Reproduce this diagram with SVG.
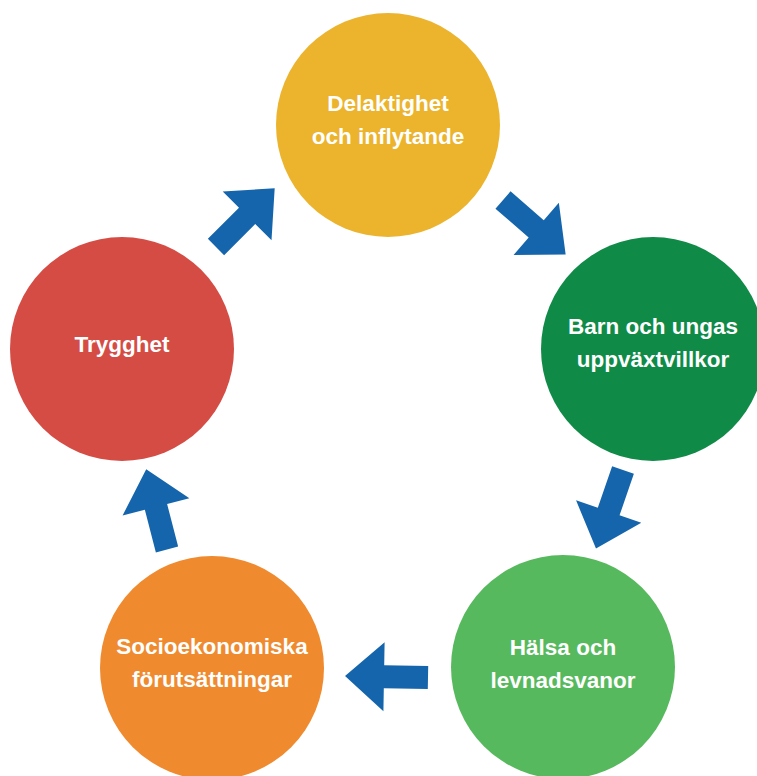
<svg xmlns="http://www.w3.org/2000/svg" width="757" height="776" viewBox="0 0 757 776">
  <style>
    .lbl { font-family: "Liberation Sans", Arial, sans-serif; font-weight: bold; font-size: 22.5px; fill: #ffffff; text-anchor: middle; }
    .arrow { fill: #1565AD; }
  </style>
  <defs>
    <path id="blockArrow" d="M0,-11.5 L44,-11.5 L44,-34.5 L83,0 L44,34.5 L44,11.5 L0,11.5 Z"/>
  </defs>
  <rect width="757" height="776" fill="#ffffff"/>

  <g id="node-delaktighet">
    <circle cx="388" cy="125" r="112" fill="#ECB32D"/>
    <text class="lbl" x="388" y="111">Delaktighet</text>
    <text class="lbl" x="388" y="144">och inflytande</text>
  </g>
  <g id="node-barn">
    <circle cx="653" cy="349" r="112" fill="#0F8A47"/>
    <text class="lbl" x="653" y="334">Barn och ungas</text>
    <text class="lbl" x="653" y="367">uppväxtvillkor</text>
  </g>
  <g id="node-halsa">
    <circle cx="563" cy="667" r="112" fill="#57B95D"/>
    <text class="lbl" x="563" y="655">Hälsa och</text>
    <text class="lbl" x="563" y="688">levnadsvanor</text>
  </g>
  <g id="node-socio">
    <circle cx="212" cy="668" r="112" fill="#F08A2E"/>
    <text class="lbl" x="212" y="654">Socioekonomiska</text>
    <text class="lbl" x="212" y="687">förutsättningar</text>
  </g>
  <g id="node-trygghet">
    <circle cx="122" cy="349" r="112" fill="#D54C45"/>
    <text class="lbl" x="122" y="352">Trygghet</text>
  </g>

  <g id="connectors">
    <use href="#blockArrow" class="arrow" transform="translate(216,247) rotate(-45)"/>
    <use href="#blockArrow" class="arrow" transform="translate(503,200) rotate(41)"/>
    <use href="#blockArrow" class="arrow" transform="translate(623,470) rotate(109)"/>
    <use href="#blockArrow" class="arrow" transform="translate(428,677.5) rotate(181)"/>
    <use href="#blockArrow" class="arrow" transform="translate(167,549.5) rotate(-104.5)"/>
  </g>
</svg>
